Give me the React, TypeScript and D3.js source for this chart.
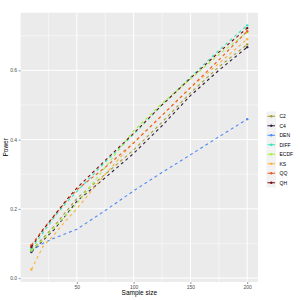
import React, { useEffect, useRef } from 'react';
import * as d3 from 'd3';

const sampleSizes = [10, 20, 30, 40, 50, 75, 100, 125, 150, 175, 200];

const methods = ['C2', 'C4', 'DEN', 'DIFF', 'ECDF', 'KS', 'QQ', 'QH'];
const colors = ['#a0a030', '#35203f', '#4d88f5', '#30e8b8', '#a6f23e', '#fcb23c', '#ee5a20', '#7a0f0f'];

const c2 = [0.08, 0.115, 0.15, 0.19, 0.23, 0.30, 0.37, 0.45, 0.535, 0.61, 0.675];
const c4 = [0.075, 0.108, 0.14, 0.18, 0.222, 0.29, 0.36, 0.44, 0.527, 0.6, 0.667];
const den = [0.079, 0.1, 0.115, 0.128, 0.141, 0.195, 0.252, 0.305, 0.356, 0.408, 0.459];
const diff = [0.085, 0.13, 0.175, 0.215, 0.25, 0.335, 0.415, 0.5, 0.58, 0.658, 0.73];
const ecdf = [0.08, 0.11, 0.145, 0.18, 0.215, 0.32, 0.425, 0.505, 0.575, 0.645, 0.71];
const ks = [0.025, 0.09, 0.125, 0.165, 0.2, 0.3, 0.392, 0.47, 0.55, 0.62, 0.69];
const qq = [0.095, 0.14, 0.18, 0.22, 0.255, 0.32, 0.39, 0.47, 0.55, 0.63, 0.713];
const qh = [0.09, 0.138, 0.18, 0.222, 0.26, 0.34, 0.418, 0.5, 0.577, 0.652, 0.722];

const seriesValues = [c2, c4, den, diff, ecdf, ks, qq, qh];

const xTicks = [50, 100, 150, 200];
const yTicks = [0.0, 0.2, 0.4, 0.6];

const W = 300;
const H = 300;
const margin = { left: 20.6, top: 12.7, right: 258, bottom: 282 };

const App: React.FC = () => {
  const svgRef = useRef<SVGSVGElement>(null);

  useEffect(() => {
    if (!svgRef.current) return;
    const svg = d3.select(svgRef.current);
    svg.selectAll('*').remove();

    const font = 'Liberation Sans, Arial, sans-serif';

    const x = d3.scaleLinear().domain([0.5, 209.5]).range([margin.left, margin.right]);
    const y = d3.scaleLinear().domain([-0.0113, 0.7665]).range([margin.bottom, margin.top]);

    // panel
    svg.append('rect')
      .attr('x', margin.left).attr('y', margin.top)
      .attr('width', margin.right - margin.left)
      .attr('height', margin.bottom - margin.top)
      .attr('fill', '#ebebeb');

    const grid = svg.append('g');
    const minorX = [25, 75, 125, 175];
    const minorY = [0.1, 0.3, 0.5, 0.7];
    minorX.forEach(v => {
      grid.append('line').attr('x1', x(v)).attr('x2', x(v))
        .attr('y1', margin.top).attr('y2', margin.bottom)
        .attr('stroke', '#fff').attr('stroke-width', 0.5);
    });
    minorY.forEach(v => {
      grid.append('line').attr('y1', y(v)).attr('y2', y(v))
        .attr('x1', margin.left).attr('x2', margin.right)
        .attr('stroke', '#fff').attr('stroke-width', 0.5);
    });
    xTicks.forEach(v => {
      grid.append('line').attr('x1', x(v)).attr('x2', x(v))
        .attr('y1', margin.top).attr('y2', margin.bottom)
        .attr('stroke', '#fff').attr('stroke-width', 1);
    });
    yTicks.forEach(v => {
      grid.append('line').attr('y1', y(v)).attr('y2', y(v))
        .attr('x1', margin.left).attr('x2', margin.right)
        .attr('stroke', '#fff').attr('stroke-width', 1);
    });

    // axes
    const xAxis = svg.append('g')
      .attr('transform', `translate(0,${margin.bottom})`)
      .call(d3.axisBottom(x).tickValues(xTicks).tickSize(2).tickPadding(1.5).tickFormat(d3.format('d')));
    const yAxis = svg.append('g')
      .attr('transform', `translate(${margin.left},0)`)
      .call(d3.axisLeft(y).tickValues(yTicks).tickSize(2).tickPadding(1.5).tickFormat(d3.format('.1f')));
    [xAxis, yAxis].forEach(a => {
      a.select('.domain').remove();
      a.selectAll('line').attr('stroke', '#333').attr('stroke-width', 0.5);
      a.selectAll('text').attr('fill', '#4d4d4d').style('font-size', '5px').style('font-family', font);
    });

    // series
    const line = d3.line<number>()
      .x((_, i) => x(sampleSizes[i]))
      .y(d => y(d));

    seriesValues.forEach((vals, k) => {
      svg.append('path')
        .attr('d', line(vals) as string)
        .attr('fill', 'none')
        .attr('stroke', colors[k])
        .attr('stroke-width', 1.1)
        .attr('stroke-dasharray', '3,3');
      svg.append('g').selectAll('circle')
        .data([vals[0], vals[vals.length - 1]])
        .enter().append('circle')
        .attr('cx', (_, i) => x(i === 0 ? sampleSizes[0] : sampleSizes[sampleSizes.length - 1]))
        .attr('cy', d => y(d))
        .attr('r', 1.2)
        .attr('fill', colors[k]);
    });

    // axis titles
    svg.append('text')
      .attr('x', (margin.left + margin.right) / 2).attr('y', 295)
      .attr('text-anchor', 'middle')
      .style('font-size', '6.5px').style('font-family', font)
      .attr('fill', '#000')
      .text('Sample size');
    svg.append('text')
      .attr('transform', `translate(8,${(margin.top + margin.bottom) / 2}) rotate(-90)`)
      .attr('text-anchor', 'middle')
      .style('font-size', '6.5px').style('font-family', font)
      .attr('fill', '#000')
      .text('Power');

    // legend
    const legend = svg.append('g').attr('transform', 'translate(266.5,111.5)');
    methods.forEach((m, i) => {
      const g = legend.append('g').attr('transform', `translate(0,${i * 9.5})`);
      g.append('rect').attr('width', 9.5).attr('height', 9.5).attr('fill', '#f2f2f2');
      g.append('line').attr('x1', 1).attr('x2', 8.5).attr('y1', 4.75).attr('y2', 4.75)
        .attr('stroke', colors[i]).attr('stroke-width', 1.1).attr('stroke-dasharray', '3,1.5');
      g.append('circle').attr('cx', 4.75).attr('cy', 4.75).attr('r', 1.2).attr('fill', colors[i]);
      g.append('text').attr('x', 13).attr('y', 4.75).attr('dy', '0.35em')
        .style('font-size', '5px').style('font-family', font).attr('fill', '#000')
        .text(m);
    });
  }, []);

  return (
    <svg ref={svgRef} width={W} height={H} style={{ position: 'absolute', left: 0, top: 0, background: '#fff' }} />
  );
};

export default App;
